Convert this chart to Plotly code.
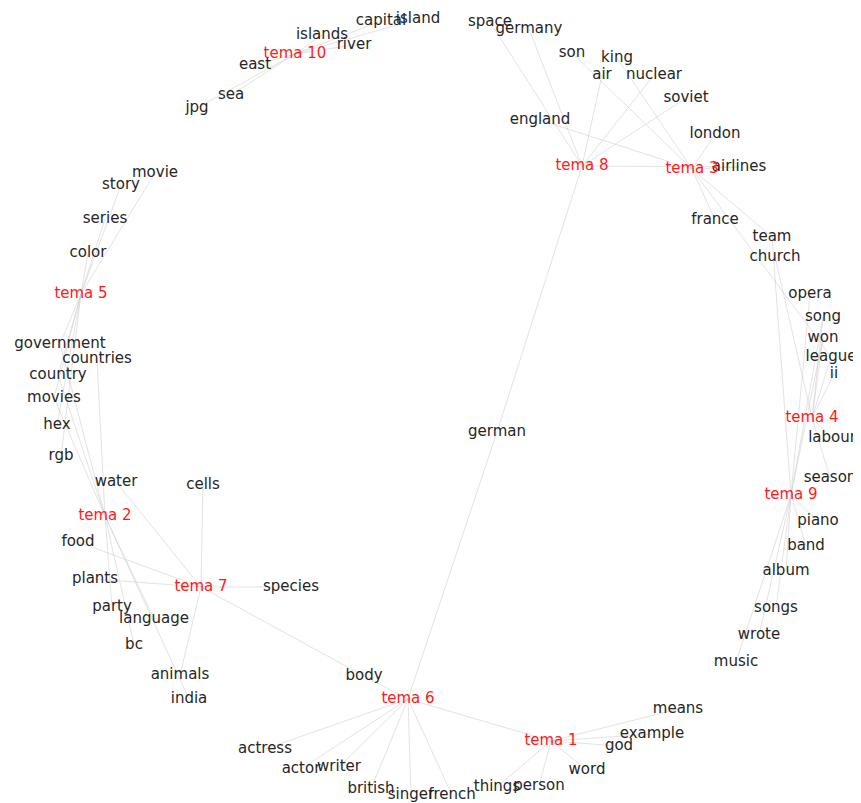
import plotly.graph_objects as go

# Topic nodes (layout positions, pixel-like units)
topics = ["tema 1", "tema 2", "tema 3", "tema 4", "tema 5",
          "tema 6", "tema 7", "tema 8", "tema 9", "tema 10"]
topic_x = [551, 105, 692, 812, 81, 408, 201, 582, 791, 295]
topic_y = [739, 514, 167, 416, 292, 697, 585, 164, 493, 52]

# Word nodes
words = ["means", "example", "god", "word", "things", "person",
         "water", "food", "plants", "party", "language", "bc", "india", "animals", "cells", "species",
         "government", "countries", "country", "movies", "hex", "rgb",
         "movie", "story", "series", "color",
         "son", "king", "england", "london", "airlines", "france", "team", "church",
         "opera", "song", "won", "league", "ii", "labour", "season",
         "piano", "band", "album", "songs", "wrote", "music",
         "body", "actress", "actor", "writer", "british", "singer", "french", "german",
         "space", "germany", "air", "nuclear", "soviet",
         "islands", "capital", "island", "river", "east", "sea", "jpg"]
word_x = [678, 652, 619, 587, 497, 539,
          116, 78, 95, 112, 154, 134, 189, 180, 203, 291,
          60, 97, 58, 54, 57, 61,
          155, 121, 105, 88,
          572, 617, 540, 715, 739, 715, 772, 775,
          810, 823, 823, 831, 834, 832, 830,
          818, 806, 786, 776, 759, 736,
          364, 265, 301, 339, 371, 411, 452, 497,
          490, 529, 602, 654, 686,
          322, 381, 418, 354, 255, 231, 197]
word_y = [707, 732, 744, 768, 785, 784,
          480, 540, 577, 605, 617, 643, 697, 673, 483, 585,
          342, 357, 373, 396, 423, 454,
          171, 183, 217, 251,
          51, 56, 118, 132, 165, 218, 235, 255,
          292, 315, 336, 355, 372, 436, 476,
          519, 544, 569, 606, 633, 660,
          674, 747, 767, 765, 787, 793, 793, 430,
          20, 27, 73, 73, 96,
          33, 19, 17, 43, 63, 93, 106]

# Edges (topic -> word)
edges = [
    ("tema 1", "means"), ("tema 1", "example"), ("tema 1", "god"), ("tema 1", "word"),
    ("tema 1", "things"), ("tema 1", "person"),
    ("tema 2", "government"), ("tema 2", "countries"), ("tema 2", "country"), ("tema 2", "movies"),
    ("tema 2", "party"), ("tema 2", "language"), ("tema 2", "bc"), ("tema 2", "india"),
    ("tema 3", "son"), ("tema 3", "king"), ("tema 3", "england"), ("tema 3", "london"),
    ("tema 3", "airlines"), ("tema 3", "france"), ("tema 3", "team"), ("tema 3", "league"),
    ("tema 4", "church"), ("tema 4", "won"), ("tema 4", "song"), ("tema 4", "ii"),
    ("tema 4", "labour"), ("tema 4", "season"), ("tema 4", "league"),
    ("tema 5", "movie"), ("tema 5", "story"), ("tema 5", "series"), ("tema 5", "color"),
    ("tema 5", "government"), ("tema 5", "country"), ("tema 5", "movies"), ("tema 5", "hex"),
    ("tema 5", "rgb"),
    ("tema 6", "body"), ("tema 6", "actress"), ("tema 6", "actor"), ("tema 6", "writer"),
    ("tema 6", "british"), ("tema 6", "singer"), ("tema 6", "french"), ("tema 6", "german"),
    ("tema 6", "tema 1"),
    ("tema 7", "water"), ("tema 7", "cells"), ("tema 7", "food"), ("tema 7", "plants"),
    ("tema 7", "species"), ("tema 7", "animals"), ("tema 7", "body"),
    ("tema 8", "space"), ("tema 8", "germany"), ("tema 8", "air"), ("tema 8", "nuclear"),
    ("tema 8", "soviet"), ("tema 8", "airlines"), ("tema 8", "german"),
    ("tema 9", "team"), ("tema 9", "opera"), ("tema 9", "song"), ("tema 9", "won"),
    ("tema 9", "piano"), ("tema 9", "band"), ("tema 9", "album"), ("tema 9", "songs"),
    ("tema 9", "wrote"), ("tema 9", "music"),
    ("tema 10", "islands"), ("tema 10", "capital"), ("tema 10", "island"), ("tema 10", "river"),
    ("tema 10", "east"), ("tema 10", "sea"), ("tema 10", "jpg"),
]

pos = {}
for n, x, y in zip(topics, topic_x, topic_y):
    pos[n] = (x, y)
for n, x, y in zip(words, word_x, word_y):
    pos[n] = (x, y)

ex, ey = [], []
for a, b in edges:
    ex += [pos[a][0], pos[b][0], None]
    ey += [pos[a][1], pos[b][1], None]

fig = go.Figure()
fig.add_trace(go.Scatter(x=ex, y=ey, mode="lines",
                         line=dict(color="rgba(200,200,200,0.5)", width=1),
                         hoverinfo="skip", showlegend=False))
fig.add_trace(go.Scatter(x=word_x, y=word_y, mode="text", text=words,
                         textposition="middle center", cliponaxis=False,
                         textfont=dict(family="DejaVu Sans", size=15, color="#262626"),
                         hoverinfo="skip", showlegend=False))
fig.add_trace(go.Scatter(x=topic_x, y=topic_y, mode="text", text=topics,
                         textposition="middle center", cliponaxis=False,
                         textfont=dict(family="DejaVu Sans", size=15, color="#ff1a1a"),
                         hoverinfo="skip", showlegend=False))

# page body has an 8px margin; size the figure to fit inside the window
fig.update_layout(width=853, height=795, margin=dict(l=0, r=0, t=0, b=0),
                  paper_bgcolor="white", plot_bgcolor="white",
                  xaxis=dict(range=[8, 861], visible=False, fixedrange=True),
                  yaxis=dict(range=[801, 6], visible=False, fixedrange=True),
                  hovermode=False)
fig.write_html("out.html")
